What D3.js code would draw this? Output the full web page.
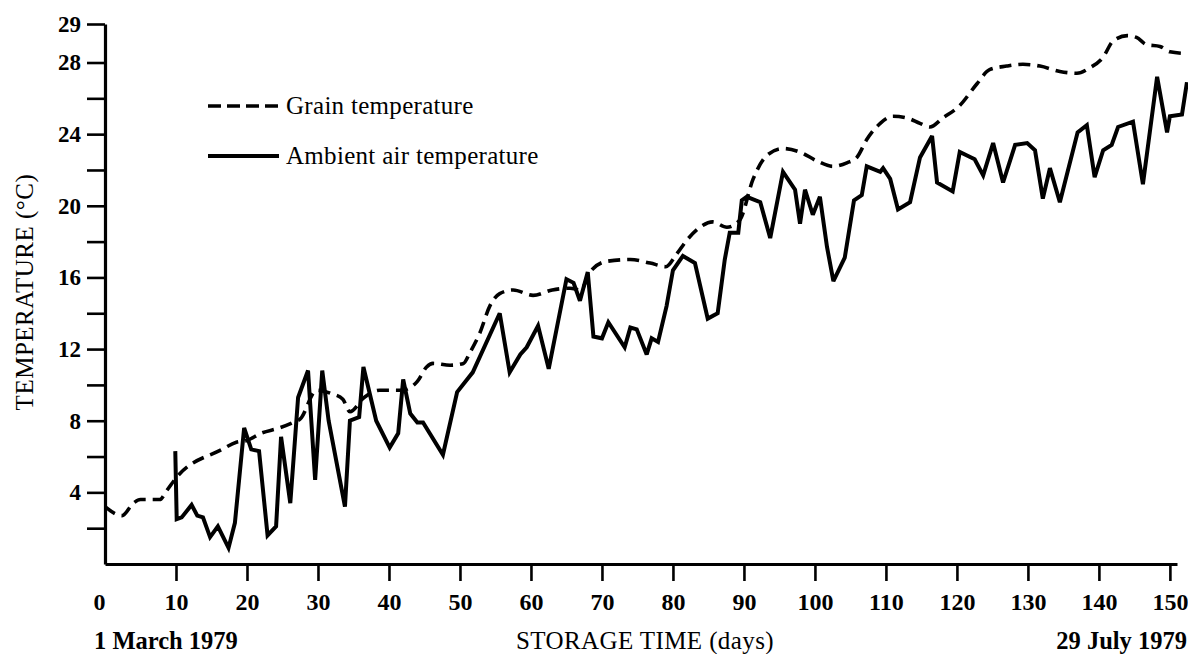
<!DOCTYPE html>
<html>
<head>
<meta charset="utf-8">
<script src="https://cdn.jsdelivr.net/npm/d3@7"></script>
<style>
  html, body { margin: 0; padding: 0; background: #fff; }
  svg { display: block; }
  text { font-family: "Liberation Serif", "Times New Roman", serif; fill: #000; }
</style>
</head>
<body>
<svg id="chart" width="1188" height="654"></svg>
<script>
// ---- Data ----
const grainDays = [0,2.4,4,5,7.7,8.7,10,16.5,18.5,20,22,24.6,26.5,27.5,29.8,32,33.5,34.5,36.5,38.7,40,41.8,44,45.3,46.2,48.6,50.5,51.4,52.8,54.2,55.6,57.5,60.3,63,65.5,67,68.3,70.7,74,76.8,79,80.5,82,83.8,85.6,87.6,89.4,91.3,93.2,95.5,97.9,100.3,102.5,104.5,105.9,107.3,109.2,111,113,114.8,116.2,118,120.4,122.8,124.6,127,129.3,131.7,134.5,136.9,138.7,140.6,142,144,145.3,146.7,148.6,150,152.4];
const grainTemp = [3.2,2.7,3.4,3.6,3.6,4.1,4.8,6.4,6.8,6.9,7.3,7.6,7.9,8.1,9.7,9.5,9.2,8.5,9.3,9.7,9.7,9.7,10.2,11.0,11.2,11.1,11.2,11.8,12.9,14.4,15.1,15.3,15.0,15.3,15.4,15.3,16.3,16.9,17.0,16.8,16.6,17.3,18.1,18.8,19.1,18.8,19.2,21.5,22.8,23.2,23.0,22.5,22.2,22.4,22.7,23.7,24.6,25.0,24.9,24.6,24.4,24.9,25.6,26.8,27.6,27.8,27.9,27.8,27.5,27.4,27.7,28.3,29.2,29.5,29.4,29.0,28.9,28.6,28.5];

const airDays = [9.9,10.1,10.8,12.2,13,13.8,14.8,15.9,17.4,18.3,19.6,20.6,21.7,22.9,24.1,24.8,26.1,27.2,28.6,29.6,30.6,31.5,33.8,34.5,35.8,36.4,38.2,40.1,41.3,42,43,44,44.8,47.6,49.6,51,51.8,55.6,57,58.5,59.4,61,62.5,65,66,66.9,68,68.8,70,70.9,73.2,74,74.9,76.3,77,77.9,79.1,80,81.4,83.1,84.9,86.3,87.3,88,89.2,89.7,90.4,92.3,93.7,95.5,97.2,97.9,98.6,99.7,100.7,101.7,102.6,104.2,105.5,106.6,107.3,109.2,109.6,110.6,111.7,113.4,114.8,116.5,117.2,119.4,120.4,122.5,123.7,125.1,126.5,128.2,129.9,131,132.1,133.1,134.5,137,138.3,139.4,140.6,141.8,142.7,144.8,146.2,148.2,149.6,150,151.7,152.4];
const airTemp = [6.3,2.5,2.6,3.3,2.7,2.6,1.5,2.1,0.9,2.3,7.6,6.4,6.3,1.6,2.1,7.1,3.4,9.3,10.8,4.7,10.8,8.0,3.2,8.0,8.2,11.0,8.0,6.5,7.3,10.3,8.4,7.9,7.9,6.1,9.6,10.3,10.7,14.0,10.7,11.7,12.1,13.3,10.9,15.9,15.7,14.7,16.3,12.7,12.6,13.5,12.1,13.2,13.1,11.7,12.6,12.4,14.4,16.4,17.2,16.8,13.7,14.0,17.0,18.5,18.5,20.3,20.5,20.2,18.2,21.9,20.9,19.0,20.9,19.5,20.5,17.7,15.8,17.1,20.3,20.6,22.2,21.9,22.1,21.5,19.8,20.2,22.7,23.9,21.3,20.8,23.0,22.6,21.7,23.5,21.3,23.4,23.5,23.1,20.4,22.1,20.2,24.1,24.5,21.6,23.1,23.4,24.4,24.7,21.2,27.2,24.1,25.0,25.1,26.9];

const xTickValues = [0,10,20,30,40,50,60,70,80,90,100,110,120,130,140,150];
const yTickValues = [2,4,6,8,10,12,14,16,18,20,22,24,26,28,30.15];
const yTickLabels = ["","4","","8","","12","","16","","20","","24","","28","29"];
const seriesNames = ["Grain temperature", "Ambient air temperature"];
const xTitle = "STORAGE TIME (days)";
const yTitle = "TEMPERATURE (\u00B0C)";
const startLabel = "1 March 1979";
const endLabel = "29 July 1979";

// ---- Drawing ----
const svg = d3.select("#chart");
svg.append("rect").attr("width", 1188).attr("height", 654).attr("fill", "#fff");

const x = d3.scaleLinear().domain([0, 151]).range([105, 1177]);
const y = d3.scaleLinear().domain([0, 30.15]).range([564, 24]);

// X axis
const xAxis = d3.axisBottom(x)
  .tickValues(xTickValues)
  .tickSize(17).tickSizeOuter(0).tickPadding(12)
  .tickFormat(d3.format("d"));
const gx = svg.append("g").attr("transform", `translate(0,${y(0)})`).call(xAxis);
gx.select(".domain").attr("stroke", "#000").attr("stroke-width", 3.2);
gx.selectAll(".tick line").attr("stroke", "#000").attr("stroke-width", 2.6)
  .filter(d => d === 0).remove();
gx.selectAll(".tick text").attr("font-size", 24).attr("font-weight", "bold")
  .attr("font-family", "Liberation Serif, serif")
  .attr("dx", d => d === 0 ? -6 : 0);

// Y axis
const yAxis = d3.axisLeft(y)
  .tickValues(yTickValues)
  .tickSize(18).tickSizeOuter(0).tickPadding(6)
  .tickFormat((d, i) => yTickLabels[i]);
const gy = svg.append("g").attr("transform", `translate(${x(0)},0)`).call(yAxis);
gy.select(".domain").attr("stroke", "#000").attr("stroke-width", 3.2);
gy.selectAll(".tick line").attr("stroke", "#000").attr("stroke-width", 2.6);
gy.selectAll(".tick text").attr("font-size", 23).attr("font-weight", "bold")
  .attr("font-family", "Liberation Serif, serif");

// Lines
const grainData = grainDays.map((d, i) => [d, grainTemp[i]]);
const airData = airDays.map((d, i) => [d, airTemp[i]]);

const grainLine = d3.line().x(d => x(d[0])).y(d => y(d[1])).curve(d3.curveMonotoneX);
const airLine = d3.line().x(d => x(d[0])).y(d => y(d[1])).curve(d3.curveLinear);

svg.append("path").datum(grainData).attr("d", grainLine)
  .attr("fill", "none").attr("stroke", "#000").attr("stroke-width", 3.6)
  .attr("stroke-dasharray", "12,7").attr("stroke-linecap", "butt");

svg.append("path").datum(airData).attr("d", airLine)
  .attr("fill", "none").attr("stroke", "#000").attr("stroke-width", 4)
  .attr("stroke-linejoin", "miter").attr("stroke-miterlimit", 3);

// Legend
const legend = svg.append("g");
legend.append("line").attr("x1", 208).attr("x2", 279).attr("y1", 106).attr("y2", 106)
  .attr("stroke", "#000").attr("stroke-width", 3.6).attr("stroke-dasharray", "13,6");
legend.append("text").attr("x", 286).attr("y", 114).attr("font-size", 25)
  .attr("letter-spacing", 0.3).text(seriesNames[0]);
legend.append("line").attr("x1", 208).attr("x2", 279).attr("y1", 156).attr("y2", 156)
  .attr("stroke", "#000").attr("stroke-width", 4);
legend.append("text").attr("x", 286).attr("y", 164).attr("font-size", 25)
  .attr("letter-spacing", 0.3).text(seriesNames[1]);

// Titles
svg.append("text").attr("x", 645).attr("y", 649).attr("text-anchor", "middle")
  .attr("font-size", 25).attr("letter-spacing", 0.4).text(xTitle);
svg.append("text").attr("x", 94).attr("y", 649).attr("text-anchor", "start")
  .attr("font-size", 24.5).attr("font-weight", "bold").text(startLabel);
svg.append("text").attr("x", 1187).attr("y", 649).attr("text-anchor", "end")
  .attr("font-size", 24.5).attr("font-weight", "bold").text(endLabel);
svg.append("text")
  .attr("transform", "translate(33,292) rotate(-90)")
  .attr("text-anchor", "middle").attr("font-size", 25).attr("letter-spacing", 0.5)
  .text(yTitle);
</script>
</body>
</html>
